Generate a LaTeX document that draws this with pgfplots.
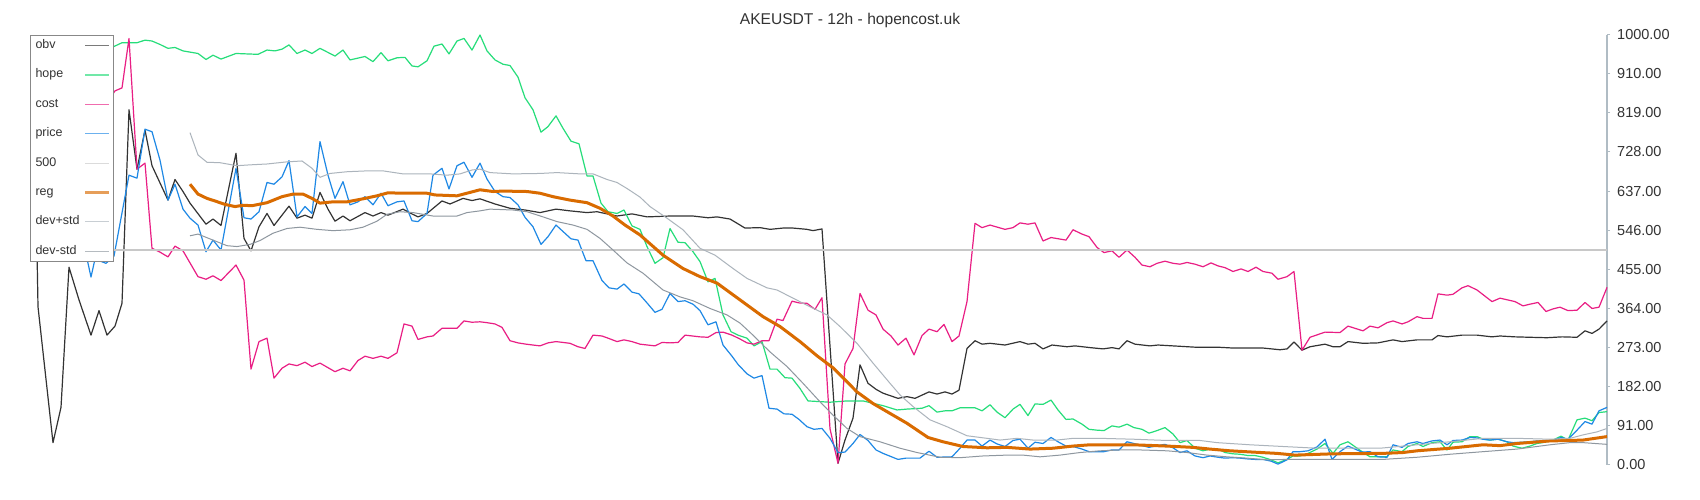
\documentclass[border=0pt]{standalone}
\usepackage{fontspec}
\setmainfont{Liberation Sans}
\usepackage{pgfplots}
\pgfplotsset{compat=1.18}
\definecolor{obvcol}{HTML}{333333}
\definecolor{hopecol}{HTML}{26DD7A}
\definecolor{costcol}{HTML}{E91E84}
\definecolor{pricecol}{HTML}{1E88E5}
\definecolor{fivecol}{HTML}{C8C8C8}
\definecolor{regcol}{HTML}{D96B00}
\definecolor{devpcol}{HTML}{ACB4BC}
\definecolor{devmcol}{HTML}{8E979F}
\definecolor{axiscol}{HTML}{B0BCC4}
\definecolor{textcol}{HTML}{333333}
\definecolor{legendgray}{HTML}{888888}

\begin{document}
\begin{tikzpicture}
\fill[white] (0,0) rectangle (1700pt,500pt);
\useasboundingbox (0,0) rectangle (1700pt,500pt);
\begin{axis}[
  at={(37pt,35pt)}, anchor=south west,
  scale only axis, width=1570pt, height=430pt,
  xmin=37, xmax=1607, ymin=0, ymax=1000,
  clip=false,
  axis x line=none,
  axis y line*=right,
  axis line style={draw=axiscol, line width=1.5pt},
  ytick={0,91,182,273,364,455,546,637,728,819,910,1000},
  tick align=outside, major tick length=3pt,
  tick style={draw=axiscol, line width=1pt},
  yticklabel style={anchor=west, inner sep=0pt, xshift=7pt,
    font=\fontsize{14.5}{17}\selectfont, text=textcol},
  /pgf/number format/assume math mode=true,
  y tick label style={/pgf/number format/.cd, fixed, fixed zerofill, precision=2, 1000 sep={}},
  title={AKEUSDT - 12h - hopencost.uk},
  every axis title shift=0pt,
  title style={at={(0.5178,1.0349)}, anchor=center, inner sep=0pt, font=\fontsize{15.6}{18}\selectfont, text=textcol},
  every axis plot post/.append style={line join=round},
  legend plot pos=right,
  legend cell align=left,
  legend image code/.code={\draw[#1, draw opacity=0.65] (0pt,0pt) -- (24pt,0pt);},
  legend style={at={(-0.0045,1)}, anchor=north west, draw=legendgray, line width=1.2pt,
    fill=white, font=\fontsize{12.5}{14}\selectfont, text=textcol,
    inner xsep=3pt, inner ysep=2pt, row sep=13.4pt, column sep=2pt,
    nodes={text height=9pt, text depth=3pt, inner sep=2pt}},
]
% obv
\addplot[color=obvcol, line width=1.2pt] coordinates {
(37,500) (38,368) (53,52) (61,134) (69,460) (79,384) (91,302) (99,359) (107,302) (115,323)
(122,376) (129,826) (137,688) (145,779) (152,696) (168,616) (175,664) (183,636) (190,609)
(206,560) (213,572) (221,557) (236,725) (244,527) (251,498) (259,554) (267,585) (274,557)
(289,602) (297,574) (305,581) (312,574) (320,634) (328,595) (335,567) (343,579) (350,568)
(365,587) (373,579) (381,587) (388,581) (403,595) (411,585) (418,577) (427,585) (442,614)
(450,607) (463,620) (472,615) (480,619) (495,607) (510,597) (525,593) (540,587) (556,595)
(570,591) (587,587) (597,589) (617,579) (632,584) (647,577) (670,579) (693,579) (708,575)
(717,577) (730,572) (745,551) (760,552) (770,548) (783,551) (793,551) (807,548) (813,545)
(822,549) (838,4) (845,58) (853,109) (860,233) (868,190) (876,176) (883,167) (898,155)
(907,159) (915,155) (929,170) (937,165) (945,170) (952,165) (959,174) (967,271) (975,289)
(982,281) (990,283) (1005,279) (1020,287) (1028,281) (1035,283) (1043,270) (1052,279)
(1067,275) (1075,277) (1090,273) (1103,270) (1112,273) (1119,270) (1127,289) (1135,281)
(1150,277) (1158,279) (1173,277) (1195,274) (1217,274) (1233,272) (1263,272) (1280,268)
(1287,270) (1294,286) (1302,267) (1310,275) (1325,281) (1333,275) (1340,275) (1348,287)
(1363,283) (1378,284) (1393,291) (1402,287) (1417,291) (1432,291) (1438,301) (1447,298)
(1462,302) (1477,302) (1492,298) (1500,300) (1515,298) (1530,297) (1547,296) (1562,298)
(1577,297) (1585,312) (1592,306) (1599,316) (1607,335)
};
\addlegendentry{obv}
% hope
\addplot[color=hopecol, line width=1.2pt] coordinates {
(111,970) (122,982) (137,982) (145,988) (152,986) (160,978) (168,969) (175,971) (183,963)
(198,957) (206,943) (213,953) (221,944) (236,957) (258,955) (267,965) (275,963) (282,967)
(289,977) (297,957) (305,965) (312,957) (320,969) (335,951) (343,965) (350,942) (365,950)
(373,938) (381,959) (388,940) (397,947) (405,948) (412,928) (418,926) (427,940) (434,974)
(442,979) (449,956) (457,986) (464,992) (472,965) (480,1000) (487,963) (495,942) (503,932)
(510,929) (518,902) (525,854) (533,826) (541,774) (548,787) (556,812) (563,783) (571,753)
(579,747) (587,672) (593,672) (601,609) (608,589) (617,585) (624,593) (632,556) (640,548)
(647,508) (655,469) (663,482) (670,550) (678,518) (685,517) (693,496) (700,473) (708,426)
(715,434) (723,349) (731,310) (738,302) (747,295) (754,277) (762,287) (770,223) (777,223)
(785,203) (792,202) (800,178) (808,149) (830,146) (847,149) (863,149) (883,138) (897,128)
(907,130) (922,132) (929,138) (937,123) (945,126) (952,126) (960,133) (975,133) (982,126)
(990,140) (997,123) (1005,110) (1013,130) (1020,141) (1028,115) (1035,142) (1043,141)
(1051,151) (1058,128) (1066,106) (1073,107) (1082,95) (1089,83) (1097,81) (1104,80)
(1112,91) (1119,88) (1127,95) (1134,87) (1142,83) (1149,74) (1157,80) (1165,87) (1173,72)
(1180,52) (1187,57) (1195,39) (1203,33) (1210,37) (1218,37) (1225,29) (1233,26) (1240,25)
(1248,22) (1255,22) (1263,18) (1271,12) (1278,5) (1287,13) (1293,21) (1300,21) (1308,27)
(1317,37) (1325,50) (1333,27) (1340,47) (1348,54) (1362,31) (1370,19) (1378,19) (1387,19)
(1393,35) (1402,31) (1408,43) (1417,50) (1423,43) (1432,52) (1440,54) (1447,35) (1453,53)
(1462,54) (1470,66) (1477,66) (1483,60) (1490,58) (1498,60) (1507,54) (1513,44) (1522,39)
(1530,44) (1537,50) (1545,53) (1553,58) (1561,67) (1568,58) (1577,105) (1585,109)
(1592,103) (1599,122) (1607,124)
};
\addlegendentry{hope}
% cost
\addplot[color=costcol, line width=1.2pt] coordinates {
(111,856) (115,870) (122,877) (129,992) (137,688) (145,702) (152,504) (160,495) (168,484)
(175,509) (183,498) (198,438) (206,432) (213,440) (221,429) (236,465) (244,430) (251,223)
(259,287) (267,295) (274,202) (282,225) (289,235) (297,231) (305,239) (312,229) (320,237)
(335,217) (343,225) (350,219) (358,243) (365,253) (373,248) (381,253) (388,248) (397,261)
(404,328) (412,323) (418,292) (427,298) (433,300) (442,318) (457,318) (464,335) (472,332)
(480,333) (487,331) (495,328) (502,320) (510,289) (518,284) (526,281) (540,277) (548,284)
(556,287) (570,283) (578,275) (585,271) (593,302) (602,300) (608,295) (617,287) (624,291)
(632,287) (640,281) (655,277) (662,285) (670,284) (678,285) (685,302) (700,298) (708,297)
(716,308) (723,309) (732,302) (740,293) (747,284) (754,281) (762,289) (769,289) (777,339)
(783,336) (792,381) (799,377) (807,376) (815,362) (822,389) (830,84) (838,4) (845,235)
(853,271) (860,399) (868,360) (876,349) (883,316) (891,300) (898,279) (906,295) (914,256)
(922,301) (929,316) (937,310) (944,327) (952,287) (959,300) (967,380) (975,562) (982,552)
(990,558) (1005,548) (1013,552) (1020,563) (1028,560) (1035,563) (1043,521) (1051,529)
(1066,523) (1073,547) (1082,537) (1089,531) (1097,506) (1104,494) (1112,498) (1119,483)
(1127,500) (1135,483) (1142,465) (1150,461) (1157,469) (1165,474) (1173,469) (1180,467)
(1187,471) (1195,467) (1203,461) (1211,470) (1218,463) (1225,459) (1233,450) (1241,456)
(1248,450) (1256,460) (1263,450) (1272,446) (1278,432) (1287,438) (1294,450) (1302,267)
(1310,297) (1325,309) (1340,308) (1348,323) (1363,312) (1370,323) (1378,319) (1387,331)
(1393,335) (1402,328) (1408,333) (1417,345) (1423,341) (1432,341) (1438,398) (1447,395)
(1453,397) (1462,412) (1468,417) (1477,407) (1492,380) (1500,388) (1515,380) (1523,370)
(1530,374) (1538,378) (1546,357) (1553,363) (1560,367) (1568,359) (1577,360) (1585,378)
(1592,364) (1599,367) (1607,413)
};
\addlegendentry{cost}
% price
\addplot[color=pricecol, line width=1.2pt] coordinates {
(83,523) (91,437) (95,479) (106,469) (114,486) (129,674) (137,667) (145,781) (152,775)
(160,709) (168,616) (175,653) (183,595) (190,574) (198,558) (206,496) (213,523) (221,500)
(236,690) (244,575) (251,572) (259,589) (267,657) (274,653) (282,670) (289,708) (297,577)
(305,601) (312,585) (320,752) (328,674) (335,620) (343,659) (350,605) (358,612) (365,624)
(373,605) (381,632) (388,603) (397,612) (404,614) (412,568) (418,566) (427,585) (433,674)
(442,690) (449,642) (457,696) (464,704) (472,669) (480,702) (487,665) (495,636) (503,624)
(510,622) (518,605) (525,576) (533,554) (541,513) (548,531) (556,558) (563,543) (571,526)
(578,523) (586,475) (593,475) (602,429) (609,412) (617,409) (624,421) (632,402) (639,398)
(647,377) (655,355) (662,362) (670,399) (678,380) (685,382) (693,374) (700,359) (708,326)
(716,333) (723,279) (732,253) (738,234) (747,212) (754,202) (762,208) (769,132) (777,130)
(784,119) (792,118) (799,106) (807,89) (814,83) (822,85) (830,62) (838,29) (845,30)
(853,50) (860,71) (868,57) (876,35) (883,27) (898,13) (906,16) (920,16) (929,32) (937,18)
(952,19) (960,39) (967,58) (975,58) (982,44) (990,58) (997,49) (1005,43) (1013,57)
(1020,60) (1028,39) (1035,53) (1043,50) (1051,64) (1058,54) (1066,44) (1073,43) (1082,37)
(1089,31) (1104,31) (1112,35) (1119,35) (1127,54) (1134,50) (1142,45) (1149,41) (1157,45)
(1165,48) (1173,40) (1180,29) (1187,33) (1195,21) (1203,17) (1210,21) (1218,18) (1225,16)
(1233,17) (1240,16) (1248,14) (1255,13) (1263,13) (1271,9) (1278,2) (1287,12) (1293,31)
(1300,31) (1308,33) (1317,42) (1325,60) (1332,13) (1340,31) (1348,44) (1362,30) (1370,31)
(1378,19) (1387,18) (1393,47) (1402,41) (1408,50) (1417,54) (1423,50) (1432,56) (1440,58)
(1447,47) (1453,57) (1462,58) (1470,64) (1477,63) (1483,60) (1490,58) (1498,60) (1507,54)
(1513,52) (1522,53) (1530,54) (1537,56) (1545,56) (1553,57) (1561,64) (1568,60) (1577,81)
(1585,101) (1592,95) (1599,126) (1607,134)
};
\addlegendentry{price}
% 500
\addplot[color=fivecol, line width=1.3pt] coordinates {(37,500) (1607,500)};
\addlegendentry{500}
% reg
\addplot[color=regcol, line width=3pt] coordinates {
(190,653) (198,630) (207,620) (215,614) (225,606) (235,601) (243,604) (252,603) (267,610)
(282,624) (293,630) (303,630) (312,620) (320,609) (333,612) (347,612) (363,619) (377,626)
(388,633) (403,632) (427,632) (435,628) (457,626) (480,640) (493,636) (503,637) (527,636)
(540,632) (553,624) (570,616) (587,610) (600,597) (613,579) (625,558) (640,535) (663,488)
(683,457) (700,438) (717,423) (740,384) (763,345) (780,322) (800,287) (817,254) (833,226)
(845,198) (857,170) (873,143) (890,120) (907,97) (928,64) (943,54) (963,43) (987,40)
(1007,41) (1030,37) (1053,39) (1073,44) (1090,47) (1133,47) (1167,44) (1193,41) (1210,37)
(1230,33) (1253,30) (1277,27) (1295,23) (1333,26) (1383,27) (1403,29) (1417,33) (1450,39)
(1483,47) (1500,45) (1517,50) (1550,56) (1570,57) (1583,58) (1607,66)
};
\addlegendentry{reg}
% dev+std
\addplot[color=devpcol, line width=1pt] coordinates {
(190,773) (198,721) (207,704) (220,703) (237,696) (250,698) (267,700) (287,705) (302,707)
(312,690) (320,669) (330,678) (347,682) (367,684) (383,684) (403,677) (430,677) (447,674)
(460,677) (472,686) (480,688) (490,680) (513,677) (540,678) (557,680) (580,677) (593,677)
(607,664) (617,657) (627,643) (640,623) (650,601) (667,574) (683,547) (700,504) (715,488)
(733,457) (747,434) (767,412) (777,407) (793,388) (810,368) (827,349) (840,322) (857,283)
(873,237) (890,190) (900,163) (913,136) (930,105) (947,89) (967,68) (987,62) (1000,58)
(1017,62) (1033,58) (1057,58) (1073,62) (1100,62) (1133,60) (1167,57) (1200,57) (1217,52)
(1250,47) (1283,43) (1317,39) (1380,39) (1417,47) (1450,54) (1483,62) (1517,62) (1550,60)
(1570,62) (1583,70) (1597,77) (1607,85)
};
\addlegendentry{dev+std}
% dev-std
\addplot[color=devmcol, line width=1pt] coordinates {
(190,533) (198,537) (213,523) (227,510) (237,508) (250,513) (260,522) (273,539) (287,550)
(300,553) (317,548) (333,545) (350,547) (363,553) (377,567) (387,583) (400,589) (413,587)
(433,579) (457,579) (467,587) (480,591) (490,595) (513,593) (527,589) (543,577) (557,566)
(573,558) (587,548) (600,527) (613,500) (627,470) (643,446) (663,407) (680,391) (693,382)
(710,364) (727,349) (740,330) (753,302) (770,263) (787,229) (803,190) (820,147) (833,116)
(847,85) (860,66) (880,54) (900,39) (917,29) (940,18) (960,17) (983,21) (1007,23) (1023,23)
(1040,19) (1060,23) (1080,29) (1100,33) (1120,35) (1140,35) (1167,33) (1187,29) (1207,23)
(1227,19) (1247,16) (1267,12) (1287,13) (1350,13) (1383,13) (1417,18) (1450,25) (1483,31)
(1517,37) (1550,47) (1570,52) (1583,52) (1607,48)
};
\addlegendentry{dev-std}
\end{axis}
\end{tikzpicture}
\end{document}
